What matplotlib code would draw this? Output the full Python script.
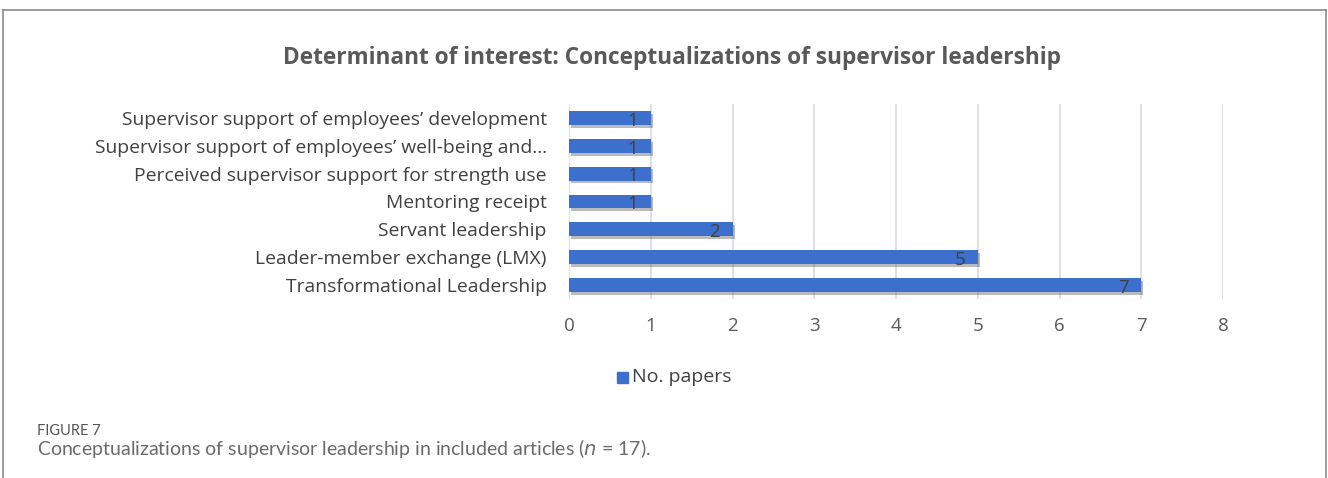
import matplotlib.pyplot as plt
import matplotlib.patheffects as pe
from matplotlib.lines import Line2D

categories = [
    "Transformational Leadership",
    "Leader-member exchange (LMX)",
    "Servant leadership",
    "Mentoring receipt",
    "Perceived supervisor support for strength use",
    "Supervisor support of employees\u2019 well-being and\u2026",
    "Supervisor support of employees\u2019 development",
]
papers = [7, 5, 2, 1, 1, 1, 1]
xticks = list(range(0, 9))

title = "Determinant of interest: Conceptualizations of supervisor leadership"
series_name = "No. papers"
fig_label = "FIGURE 7"
caption = "Conceptualizations of supervisor leadership in included articles ($n$ = 17)."

plt.rcParams["font.family"] = ["Open Sans", "DejaVu Sans"]
plt.rcParams["mathtext.fontset"] = "dejavusans"

W, H = 1328, 478
fig = plt.figure(figsize=(W / 100, H / 100), dpi=100)

# outer panel border
for xs, ys in [([3, 1326], [H - 10, H - 10]), ([3, 3], [0, H - 10]), ([1326, 1326], [0, H - 10])]:
    fig.add_artist(Line2D([x / W for x in xs], [y / H for y in ys], color="#8a8a8a", lw=1.2))

ax = fig.add_axes([569 / W, 1 - 299 / H, (1223 - 569) / W, (299 - 104) / H])
bar_color = "#3d6fcc"
bars = ax.barh(range(len(categories)), papers, height=0.5, color=bar_color,
               zorder=3)
for b in bars:
    b.set_path_effects([pe.SimplePatchShadow(offset=(1.5, -2), shadow_rgbFace="#555555", alpha=0.4),
                        pe.Normal()])

for i, v in enumerate(papers):
    ax.annotate(str(v), (v, i), xytext=(-9, -2), textcoords="offset points",
                ha="right", va="center", fontsize=13.5, color="#404040", zorder=4)

ax.set_xlim(0, 8)
ax.set_ylim(-0.5, len(categories) - 0.5)
ax.set_xticks(xticks)
ax.set_yticks(range(len(categories)))
ax.set_yticklabels(categories)
ax.tick_params(axis="y", length=0, pad=16, labelsize=13.9, labelcolor="#404040")
ax.tick_params(axis="x", length=0, pad=13, labelsize=13.5, labelcolor="#595959")
ax.grid(axis="x", color="#d9d9d9", lw=1.2, zorder=0)
for s in ax.spines.values():
    s.set_visible(False)

fig.text(672 / W, 1 - 58 / H, title, ha="center", va="center", fontsize=16.3,
         fontweight="bold", color="#595959")

# legend
fig.add_artist(plt.Rectangle((617 / W, 1 - 383 / H), 11 / W, 11 / H, color=bar_color,
                             transform=fig.transFigure))
fig.text(632 / W, 1 - 377 / H, series_name, ha="left", va="center", fontsize=14,
         color="#404040")

fig.text(37 / W, 1 - 431 / H, fig_label, ha="left", va="center", fontsize=10.5,
         color="#555555", family=["Lato", "DejaVu Sans"])
fig.text(37 / W, 1 - 448 / H, caption, ha="left", va="center", fontsize=14,
         color="#6a6a6a", family=["Lato", "DejaVu Sans"])

fig.savefig("out.png", dpi=100)
